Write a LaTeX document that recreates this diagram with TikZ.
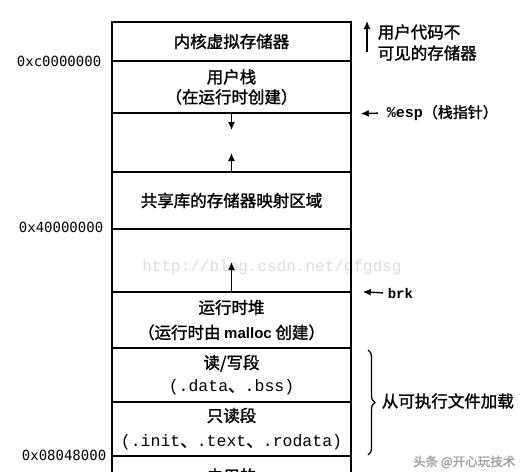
\documentclass[tikz,border=0pt]{standalone}
\usepackage{fontspec}
\setmainfont{Noto Sans CJK SC}[FakeBold=1.5]
\newfontfamily\hexfont{DejaVu Sans Mono}
\newfontfamily\codefont{Liberation Mono}
\newfontfamily\sansfont{Liberation Sans}
\usetikzlibrary{arrows.meta,decorations.pathreplacing}
\newcommand{\code}[1]{{\codefont #1}}

\begin{document}
\begin{tikzpicture}[x=1pt, y=-1pt, font=\fontsize{16.5}{23}\selectfont, line width=1.6pt, seg/.style = {draw, rectangle, minimum width=239pt, inner sep=0pt, align=center}, addr/.style = {anchor=east, inner sep=0pt, font=\hexfont\fontsize{14}{16}\selectfont}, note/.style = {anchor=west, inner sep=2pt, align=left}, ptr/.style = {-{Latex[length=8pt, width=7pt]}, line width=1.4pt}]
                \useasboundingbox (0,0) rectangle (529,471);
                \node[text=gray!28, font=\codefont\fontsize{16}{18}\selectfont] (url) at (272,267) {http://blog.csdn.net/gfgdsg};
                \node[seg, minimum height=39pt] (k0) at (231.5,41.5) {内核虚拟存储器};
                \node[seg, minimum height=52pt, font=\fontsize{16.5}{20}\selectfont] (s0) at (231.5,87) {用户栈\\（在运行时创建）};
                \node[seg, minimum height=59pt] (g0) at (231.5,142.5) {};
                \node[seg, minimum height=57pt] (m0) at (231.5,200.5) {共享库的存储器映射区域};
                \node[seg, minimum height=63pt] (g1) at (231.5,260.5) {};
                \node[seg, minimum height=56pt, font=\fontsize{16.5}{25}\selectfont] (h0) at (231.5,320) {运行时堆\\（运行时由 {\sansfont\bfseries\fontsize{15}{25}\selectfont malloc} 创建）};
                \node[seg, minimum height=54pt] (rw) at (231.5,375) {读/写段\\\code{(.data}、\code{.bss)}};
                \node[seg, minimum height=54pt, font=\fontsize{16.5}{25}\selectfont] (ro) at (231.5,429) {只读段\\\code{(.init}、\code{.text}、\code{.rodata)}};
                \node[seg, minimum height=40pt] (u0) at (231.5,476) {未用的};
                \node[addr] (a0) at (102,61) {0xc0000000};
                \node[addr] (a1) at (104,227) {0x40000000};
                \node[addr] (a2) at (107,455) {0x08048000};
                \coordinate (sdn) at (231.5,130);
                \coordinate (mup) at (231.5,153);
                \coordinate (hup) at (231.5,262);
                \draw[ptr] (s0.south) -- (sdn);
                \draw[ptr] (m0.north) -- (mup);
                \draw[ptr] (h0.north) -- (hup);
                \coordinate (v0) at (367,52);
                \coordinate (v1) at (367,21);
                \draw[ptr] (v0) -- (v1);
                \node[note, font=\fontsize{16.5}{21}\selectfont] (hid) at (375,42.5) {用户代码不\\可见的存储器};
                \node[note, font=\fontsize{15}{18}\selectfont] (esp) at (384,113) {{\codefont\bfseries\%esp}（栈指针）};
                \draw[ptr, shorten <=6pt, shorten >=9pt] (esp.west) -- (s0.south east);
                \node[note, font=\fontsize{14}{16}\selectfont] (brk) at (385,293) {\codefont\bfseries brk};
                \draw[ptr, shorten <=2pt, shorten >=11pt] (brk.west) -- (h0.north east);
                \coordinate (b0) at (368,350);
                \coordinate (b1) at (368,455);
                \draw[line width=1.3pt, decorate, decoration={brace, amplitude=7pt}] (b0) -- (b1);
                \node[note] (ld) at (379,401) {从可执行文件加载};
                \node[anchor=east, inner sep=0pt, text=gray!75, font=\fontsize{12.5}{14}\selectfont] (tt) at (516,462) {头条 @开心玩技术};
            \end{tikzpicture}
\end{document}
